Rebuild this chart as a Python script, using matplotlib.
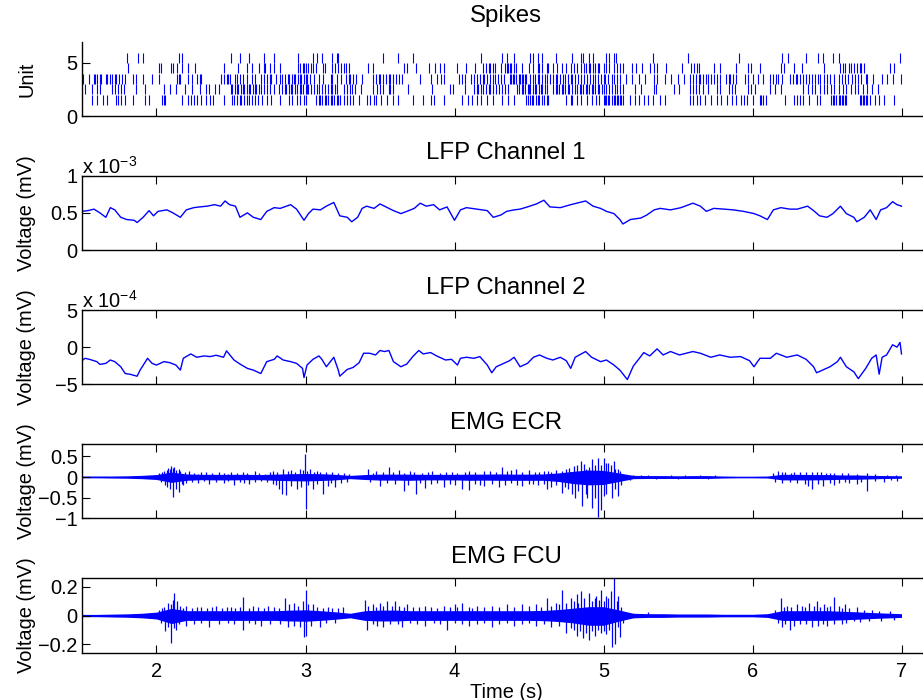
import numpy as np
import matplotlib
matplotlib.use('Agg')
import matplotlib.pyplot as plt

plt.rcParams['font.family'] = ['Liberation Sans', 'DejaVu Sans']
plt.rcParams['mathtext.fontset'] = 'custom'
plt.rcParams['mathtext.rm'] = 'Liberation Sans'
plt.rcParams['font.size'] = 14.4

# spike times (s) per unit
unit1 = [1.57, 1.60, 1.64, 1.67, 1.73, 1.74, 1.76, 1.79, 1.84, 1.92, 1.95, 2.04, 2.05, 2.06, 2.17, 2.21,
         2.23, 2.25, 2.27, 2.30, 2.33, 2.36, 2.38, 2.45, 2.51, 2.52, 2.54, 2.56, 2.57, 2.59, 2.61, 2.62,
         2.64, 2.66, 2.68, 2.71, 2.74, 2.77, 2.83, 2.89, 2.91, 2.94, 2.96, 2.99, 3.00, 3.07, 3.09, 3.10,
         3.11, 3.13, 3.14, 3.15, 3.17, 3.18, 3.19, 3.21, 3.22, 3.23, 3.26, 3.28, 3.30, 3.32, 3.36, 3.41,
         3.43, 3.46, 3.47, 3.51, 3.55, 3.59, 3.62, 3.72, 3.79, 3.84, 3.86, 3.93, 4.05, 4.09, 4.12, 4.15,
         4.18, 4.22, 4.26, 4.32, 4.36, 4.40, 4.48, 4.49, 4.51, 4.52, 4.53, 4.55, 4.56, 4.57, 4.59, 4.60,
         4.62, 4.63, 4.75, 4.78, 4.79, 4.82, 4.85, 4.89, 4.92, 4.95, 4.97, 5.00, 5.01, 5.02, 5.03, 5.04,
         5.06, 5.07, 5.08, 5.09, 5.10, 5.11, 5.12, 5.13, 5.18, 5.21, 5.24, 5.27, 5.30, 5.33, 5.38, 5.41,
         5.58, 5.60, 5.63, 5.65, 5.68, 5.72, 5.76, 5.79, 5.83, 5.86, 5.89, 5.92, 5.94, 5.96, 6.00, 6.05,
         6.06, 6.07, 6.09, 6.22, 6.28, 6.30, 6.32, 6.34, 6.38, 6.43, 6.45, 6.53, 6.54, 6.55, 6.56, 6.58,
         6.59, 6.60, 6.61, 6.62, 6.63, 6.72, 6.73, 6.74, 6.75, 6.76, 6.77, 6.79, 6.82, 6.85, 6.88, 6.95]
unit2 = [1.52, 1.57, 1.60, 1.62, 1.70, 1.72, 1.74, 1.76, 1.78, 1.86, 1.92, 2.05, 2.09, 2.13, 2.19, 2.24,
         2.29, 2.33, 2.35, 2.39, 2.42, 2.50, 2.51, 2.53, 2.54, 2.55, 2.57, 2.58, 2.59, 2.61, 2.62, 2.63,
         2.65, 2.66, 2.67, 2.69, 2.70, 2.72, 2.74, 2.76, 2.79, 2.82, 2.84, 2.86, 2.87, 2.89, 2.90, 2.91,
         2.93, 2.94, 2.96, 2.97, 2.98, 3.00, 3.01, 3.02, 3.04, 3.06, 3.08, 3.09, 3.11, 3.13, 3.15, 3.17,
         3.18, 3.20, 3.21, 3.26, 3.28, 3.30, 3.31, 3.33, 3.37, 3.45, 3.48, 3.50, 3.52, 3.56, 3.57, 3.59,
         3.69, 3.85, 3.97, 3.99, 4.07, 4.13, 4.15, 4.16, 4.18, 4.19, 4.21, 4.23, 4.24, 4.26, 4.28, 4.30,
         4.32, 4.34, 4.36, 4.42, 4.43, 4.45, 4.46, 4.47, 4.49, 4.50, 4.51, 4.53, 4.54, 4.55, 4.57, 4.58,
         4.59, 4.61, 4.62, 4.66, 4.68, 4.69, 4.70, 4.72, 4.73, 4.74, 4.76, 4.77, 4.79, 4.81, 4.82, 4.84,
         4.85, 4.86, 4.88, 4.89, 4.90, 4.92, 4.93, 4.94, 4.96, 4.97, 4.99, 5.00, 5.02, 5.04, 5.06, 5.08,
         5.09, 5.11, 5.13, 5.21, 5.25, 5.34, 5.35, 5.47, 5.51, 5.58, 5.60, 5.62, 5.64, 5.67, 5.70, 5.76,
         5.78, 5.84, 5.86, 5.88, 5.97, 5.99, 6.02, 6.12, 6.15, 6.19, 6.34, 6.37, 6.40, 6.42, 6.45, 6.48,
         6.50, 6.53, 6.55, 6.58, 6.61, 6.63, 6.66, 6.69, 6.71, 6.74, 6.77, 6.80, 6.84]
unit3 = [1.51, 1.55, 1.58, 1.59, 1.60, 1.62, 1.625, 1.66, 1.67, 1.69, 1.70, 1.72, 1.73, 1.75, 1.77, 1.79,
         1.84, 1.86, 1.91, 1.97, 2.02, 2.14, 2.15, 2.16, 2.21, 2.24, 2.27, 2.29, 2.30, 2.43, 2.45, 2.47,
         2.48, 2.49, 2.53, 2.54, 2.56, 2.58, 2.61, 2.64, 2.66, 2.70, 2.72, 2.74, 2.76, 2.77, 2.80, 2.83,
         2.84, 2.86, 2.88, 2.89, 2.91, 2.92, 2.93, 2.95, 2.96, 2.97, 2.99, 3.00, 3.01, 3.03, 3.06, 3.09,
         3.12, 3.17, 3.18, 3.21, 3.24, 3.27, 3.29, 3.30, 3.32, 3.34, 3.38, 3.45, 3.47, 3.49, 3.50, 3.52,
         3.54, 3.56, 3.57, 3.59, 3.61, 3.63, 3.65, 3.77, 3.84, 3.88, 3.91, 3.93, 4.03, 4.05, 4.07, 4.11,
         4.13, 4.15, 4.17, 4.19, 4.20, 4.22, 4.24, 4.26, 4.27, 4.29, 4.31, 4.33, 4.37, 4.38, 4.39, 4.40,
         4.41, 4.43, 4.44, 4.45, 4.46, 4.47, 4.48, 4.51, 4.53, 4.54, 4.56, 4.57, 4.59, 4.61, 4.62, 4.64,
         4.66, 4.68, 4.69, 4.71, 4.73, 4.74, 4.76, 4.78, 4.79, 4.81, 4.83, 4.85, 4.87, 4.89, 4.91, 4.93,
         4.94, 4.96, 4.98, 5.00, 5.01, 5.03, 5.06, 5.07, 5.09, 5.11, 5.15, 5.19, 5.24, 5.28, 5.34, 5.36,
         5.41, 5.45, 5.50, 5.54, 5.58, 5.60, 5.62, 5.64, 5.65, 5.67, 5.69, 5.70, 5.72, 5.74, 5.76, 5.78,
         5.82, 5.84, 5.85, 5.87, 5.89, 5.95, 5.97, 6.00, 6.04, 6.07, 6.12, 6.14, 6.16, 6.17, 6.20, 6.25,
         6.27, 6.29, 6.30, 6.32, 6.34, 6.36, 6.38, 6.40, 6.42, 6.44, 6.45, 6.48, 6.50, 6.52, 6.55, 6.58,
         6.60, 6.62, 6.64, 6.67, 6.69, 6.71, 6.73, 6.76, 6.77, 6.81, 6.87, 6.90, 6.94, 6.995]
unit4 = [1.81, 2.02, 2.03, 2.10, 2.11, 2.14, 2.17, 2.21, 2.26, 2.45, 2.55, 2.61, 2.64, 2.69, 2.72, 2.73,
         2.76, 2.79, 2.83, 2.95, 2.96, 2.98, 2.99, 3.00, 3.02, 3.04, 3.05, 3.07, 3.12, 3.13, 3.18, 3.20,
         3.22, 3.24, 3.26, 3.27, 3.29, 3.42, 3.45, 3.66, 3.68, 3.74, 3.83, 3.87, 3.90, 3.93, 4.02, 4.08,
         4.14, 4.19, 4.21, 4.23, 4.24, 4.26, 4.27, 4.31, 4.34, 4.35, 4.36, 4.37, 4.38, 4.40, 4.41, 4.45,
         4.50, 4.53, 4.56, 4.57, 4.59, 4.62, 4.63, 4.66, 4.69, 4.72, 4.75, 4.78, 4.80, 4.82, 4.85, 4.87,
         4.88, 4.90, 4.91, 4.93, 4.94, 4.96, 4.97, 5.00, 5.02, 5.04, 5.07, 5.09, 5.11, 5.13, 5.19, 5.22,
         5.26, 5.31, 5.34, 5.36, 5.42, 5.53, 5.59, 5.61, 5.63, 5.64, 5.74, 5.78, 5.89, 5.97, 5.99, 6.05,
         6.19, 6.21, 6.28, 6.33, 6.48, 6.59, 6.61, 6.62, 6.65, 6.66, 6.68, 6.70, 6.72, 6.73, 6.75, 6.92,
         6.95]
unit5 = [1.80, 1.875, 1.91, 2.15, 2.17, 2.50, 2.56, 2.62, 2.72, 2.79, 2.95, 3.05, 3.08, 3.11, 3.18, 3.21,
         3.22, 3.52, 3.62, 3.72, 4.18, 4.32, 4.35, 4.40, 4.51, 4.53, 4.56, 4.59, 4.68, 4.79, 4.85, 4.86,
         4.90, 4.93, 5.02, 5.04, 5.07, 5.085, 5.33, 5.57, 5.91, 6.20, 6.24, 6.36, 6.44, 6.47, 6.54, 6.58,
         6.99]
units = [unit1, unit2, unit3, unit4, unit5]

# LFP channel 1 (x 1e-3 mV)
lfp1_t = [1.50, 1.54, 1.58, 1.62, 1.66, 1.69, 1.72, 1.76, 1.80, 1.85, 1.87, 1.91, 1.95, 1.98, 2.01, 2.07,
          2.11, 2.16, 2.20, 2.25, 2.29, 2.34, 2.39, 2.43, 2.46, 2.49, 2.53, 2.56, 2.61, 2.65, 2.70, 2.74,
          2.79, 2.83, 2.90, 2.94, 2.99, 3.02, 3.05, 3.10, 3.14, 3.19, 3.23, 3.28, 3.31, 3.35, 3.38, 3.41,
          3.46, 3.50, 3.55, 3.59, 3.64, 3.68, 3.73, 3.77, 3.81, 3.86, 3.90, 3.95, 4.00,
          4.04, 4.08, 4.15, 4.22, 4.26, 4.31, 4.35, 4.40, 4.44, 4.49, 4.55, 4.60, 4.64, 4.71, 4.78, 4.82,
          4.88, 4.93, 4.98, 5.02, 5.07, 5.11, 5.13, 5.18, 5.25, 5.29, 5.34, 5.38, 5.45, 5.52, 5.60, 5.65,
          5.69, 5.74, 5.81, 5.87, 5.94, 6.01, 6.05, 6.10, 6.14, 6.19, 6.25, 6.30, 6.37, 6.41, 6.45, 6.50,
          6.54, 6.59, 6.63, 6.68, 6.70, 6.75, 6.79, 6.83, 6.86, 6.90, 6.94, 6.97, 7.00]
lfp1_v = [0.52, 0.53, 0.55, 0.50, 0.44, 0.57, 0.54, 0.44, 0.41, 0.40, 0.37, 0.44, 0.53, 0.46, 0.52, 0.54,
          0.50, 0.44, 0.54, 0.57, 0.58, 0.59, 0.61, 0.59, 0.66, 0.61, 0.59, 0.44, 0.50, 0.44, 0.41, 0.52,
          0.57, 0.56, 0.61, 0.55, 0.40, 0.49, 0.55, 0.54, 0.59, 0.64, 0.46, 0.44, 0.38, 0.44, 0.56, 0.59,
          0.56, 0.62, 0.57, 0.53, 0.49, 0.52, 0.56, 0.63, 0.59, 0.61, 0.54, 0.58, 0.40,
          0.54, 0.57, 0.55, 0.53, 0.44, 0.47, 0.52, 0.54, 0.55, 0.58, 0.62, 0.67, 0.58, 0.57, 0.61, 0.63,
          0.66, 0.59, 0.56, 0.52, 0.49, 0.41, 0.35, 0.41, 0.43, 0.47, 0.54, 0.56, 0.54, 0.57, 0.63, 0.59,
          0.52, 0.56, 0.55, 0.54, 0.52, 0.49, 0.46, 0.41, 0.54, 0.57, 0.55, 0.55, 0.59, 0.53, 0.46, 0.44,
          0.49, 0.59, 0.49, 0.44, 0.38, 0.44, 0.54, 0.41, 0.54, 0.57, 0.65, 0.61, 0.59]

# LFP channel 2 (x 1e-4 mV)
lfp2_t = [1.50, 1.52, 1.55, 1.60, 1.62, 1.66, 1.69, 1.72, 1.76, 1.79, 1.82, 1.87, 1.89, 1.94, 1.97, 2.00,
          2.05, 2.09, 2.13, 2.16, 2.18, 2.23, 2.27, 2.32, 2.36, 2.40, 2.45, 2.47, 2.52, 2.56, 2.61, 2.65,
          2.70, 2.74, 2.79, 2.81, 2.85, 2.90, 2.94, 2.98, 2.99, 3.01, 3.05, 3.09, 3.11, 3.14, 3.19, 3.22,
          3.23, 3.28, 3.32, 3.36, 3.39, 3.43, 3.47, 3.50, 3.53, 3.56, 3.59, 3.64, 3.68, 3.72, 3.76, 3.79,
          3.84, 3.88, 3.94, 3.98, 4.02,
          4.04, 4.08, 4.13, 4.17, 4.22, 4.25, 4.28, 4.33, 4.37, 4.40, 4.44, 4.49, 4.53, 4.57, 4.62, 4.66,
          4.71, 4.75, 4.78, 4.81, 4.88, 4.92, 4.98, 5.02, 5.07, 5.11, 5.16, 5.20, 5.25, 5.27, 5.31, 5.36,
          5.40, 5.45, 5.51, 5.60, 5.65, 5.72, 5.78, 5.85, 5.92, 5.98, 6.01, 6.05, 6.12, 6.16, 6.23, 6.30,
          6.36, 6.41, 6.43, 6.48, 6.52, 6.57, 6.59, 6.63, 6.68, 6.71, 6.76, 6.80, 6.83, 6.85, 6.87, 6.90,
          6.94, 6.97, 6.99, 7.00]
lfp2_v = [-1.82, -1.50, -1.64, -1.95, -2.32, -2.18, -1.73, -1.95, -2.64, -3.55, -3.64, -3.91, -3.09, -1.50,
          -2.18, -2.41, -1.95, -2.09, -2.41, -3.09, -1.50, -0.91, -1.36, -1.18, -1.27, -1.09, -1.36, -0.50,
          -1.73, -2.27, -2.86, -3.09, -3.55, -1.95, -1.64, -1.18, -1.73, -1.95, -2.18, -2.86, -4.09, -2.41,
          -1.64, -1.18, -1.64, -2.64, -1.36, -3.09, -3.91, -3.00, -2.73, -2.09, -0.82, -0.82, -1.05, -0.45,
          -0.59, -0.45, -1.95, -2.64, -2.27, -1.27, -0.45, -0.91, -0.73, -1.18, -1.73, -1.64, -2.41,
          -1.50, -1.36, -1.50, -1.27, -2.41, -3.45, -2.64, -2.18, -1.82, -1.36, -2.64, -2.18, -1.36, -1.05,
          -1.50, -1.73, -1.36, -1.82, -2.86, -1.36, -0.59, -1.36, -1.95, -1.73, -2.41, -3.09, -4.36, -2.55,
          -1.27, -0.73, -1.18, -0.23, -1.05, -0.59, -1.05, -0.59, -0.82, -1.36, -1.05, -1.36, -1.27, -1.82,
          -2.64, -1.50, -1.50, -0.82, -1.36, -1.05, -1.64, -2.64, -3.45, -3.00, -2.64, -1.95, -1.36, -2.64,
          -3.32, -4.23, -2.86, -1.50, -1.05, -3.64, -1.36, -1.05, 0.32, 0.00, 0.64, -0.91]

# EMG background envelopes (mV), every 0.1 s
band_t = [1.5, 1.6, 1.7, 1.8, 1.9, 2.0, 2.1, 2.2, 2.3, 2.4, 2.5, 2.6, 2.7, 2.8, 2.9, 3.0, 3.1, 3.2, 3.3,
          3.4, 3.5, 3.6, 3.7, 3.8, 3.9, 4.0, 4.1, 4.2, 4.3, 4.4, 4.5, 4.6, 4.7, 4.8, 4.9, 5.0, 5.1, 5.2,
          5.3, 5.4, 5.5, 5.6, 5.7, 5.8, 5.9, 6.0, 6.1, 6.2, 6.3, 6.4, 6.5, 6.6, 6.7, 6.8, 6.9, 7.0]
ecr_hi = [0.025, 0.025, 0.025, 0.03, 0.04, 0.06, 0.12, 0.075, 0.065, 0.065, 0.065, 0.065, 0.06, 0.07,
          0.08, 0.085, 0.08, 0.065, 0.04, 0.06, 0.07, 0.07, 0.07, 0.065, 0.065, 0.065, 0.07, 0.07,
          0.075, 0.07, 0.07, 0.075, 0.10, 0.14, 0.17, 0.16, 0.10, 0.04, 0.035, 0.035, 0.03, 0.035,
          0.035, 0.025, 0.02, 0.02, 0.025, 0.065, 0.065, 0.06, 0.06, 0.05, 0.05, 0.04, 0.035, 0.03]
ecr_lo = [-0.02, -0.02, -0.025, -0.03, -0.04, -0.06, -0.13, -0.08, -0.065, -0.07, -0.07, -0.065, -0.065,
          -0.08, -0.09, -0.095, -0.085, -0.07, -0.04, -0.06, -0.075, -0.075, -0.08, -0.07, -0.07,
          -0.07, -0.08, -0.075, -0.08, -0.08, -0.08, -0.08, -0.11, -0.16, -0.19, -0.18, -0.11,
          -0.04, -0.035, -0.035, -0.035, -0.035, -0.035, -0.025, -0.02, -0.02, -0.025, -0.07, -0.07,
          -0.07, -0.065, -0.055, -0.055, -0.045, -0.035, -0.03]
fcu_hi = [0.008, 0.008, 0.010, 0.012, 0.016, 0.024, 0.050, 0.034, 0.034, 0.034, 0.034, 0.034, 0.034,
          0.034, 0.038, 0.040, 0.034, 0.026, 0.016, 0.034, 0.038, 0.038, 0.034, 0.034, 0.034, 0.034,
          0.034, 0.034, 0.034, 0.034, 0.034, 0.036, 0.042, 0.052, 0.062, 0.062, 0.040, 0.016, 0.013,
          0.013, 0.011, 0.011, 0.011, 0.009, 0.009, 0.009, 0.013, 0.034, 0.034, 0.034, 0.034, 0.030,
          0.026, 0.021, 0.017, 0.013]
fcu_lo = [-0.008, -0.008, -0.010, -0.012, -0.016, -0.024, -0.056, -0.034, -0.034, -0.034, -0.034,
          -0.034, -0.034, -0.034, -0.038, -0.040, -0.034, -0.026, -0.016, -0.034, -0.038, -0.038, -0.034,
          -0.034, -0.034, -0.034, -0.034, -0.034, -0.034, -0.034, -0.034, -0.036, -0.042, -0.052, -0.068,
          -0.068, -0.040, -0.016, -0.013, -0.013, -0.011, -0.011, -0.011, -0.009, -0.009, -0.009, -0.013,
          -0.034, -0.034, -0.034, -0.034, -0.030, -0.026, -0.021, -0.017, -0.013]

# EMG excursions beyond the background (time s, mV)
ecr_peak_t = [2.02, 2.04, 2.05, 2.07, 2.08, 2.09, 2.10, 2.11, 2.12, 2.13, 2.15, 2.16, 2.19, 2.22, 2.25,
              2.28, 2.30, 2.33, 2.37, 2.42, 2.45, 2.48, 2.50, 2.54, 2.58, 2.61, 2.66, 2.69, 2.73, 2.76,
              2.78, 2.81, 2.85, 2.88, 2.90, 2.93, 2.96, 2.98, 2.995, 3.01, 3.03, 3.06, 3.08, 3.10, 3.14,
              3.18, 3.22, 3.26, 3.29, 3.42, 3.45, 3.47, 3.52, 3.56, 3.59, 3.63, 3.66, 3.70, 3.73, 3.78,
              3.82, 3.85, 3.90, 3.94, 3.98, 4.02, 4.07, 4.10, 4.14, 4.20, 4.24, 4.28, 4.32, 4.35, 4.38,
              4.41, 4.45, 4.50, 4.54, 4.57, 4.60, 4.63, 4.65, 4.68, 4.72, 4.75, 4.77, 4.80, 4.82, 4.85,
              4.87, 4.88, 4.90, 4.925, 4.94, 4.96, 4.98, 5.00, 5.02, 5.03, 5.05, 5.07, 5.08, 5.10, 5.11,
              5.20, 5.25, 5.30, 5.45, 5.55, 5.65, 5.75, 6.14, 6.17, 6.20, 6.22, 6.26, 6.28, 6.32, 6.36,
              6.40, 6.43, 6.46, 6.49, 6.52, 6.55, 6.60, 6.64, 6.70, 6.77, 6.82, 6.90, 6.96,
              2.03, 2.06, 2.07, 2.09, 2.11, 2.13, 2.15, 2.17, 2.18, 2.20, 2.24, 2.28, 2.32, 2.35, 2.40,
              2.45, 2.48, 2.52, 2.56, 2.59, 2.62, 2.66, 2.70, 2.74, 2.78, 2.80, 2.82, 2.84, 2.87, 2.90,
              2.94, 2.97, 3.00, 3.02, 3.05, 3.08, 3.12, 3.15, 3.17, 3.20, 3.24, 3.28, 3.43, 3.50, 3.55,
              3.60, 3.66, 3.69, 3.74, 3.77, 3.80, 3.84, 3.88, 3.93, 3.97, 4.00, 4.05, 4.10, 4.14, 4.17,
              4.20, 4.25, 4.30, 4.34, 4.38, 4.42, 4.45, 4.50, 4.53, 4.56, 4.60, 4.62, 4.65, 4.68, 4.72,
              4.74, 4.76, 4.79, 4.81, 4.83, 4.855, 4.88, 4.89, 4.92, 4.94, 4.96, 4.98, 5.00, 5.02, 5.06,
              5.08, 5.10, 5.12, 5.18, 5.35, 5.50, 5.70, 6.15, 6.20, 6.25, 6.30, 6.35, 6.37, 6.40, 6.44,
              6.47, 6.52, 6.55, 6.58, 6.62, 6.65, 6.70, 6.73, 6.77, 6.82, 6.88, 6.93, 6.97]
ecr_peak_v = [0.10, 0.12, 0.14, 0.18, 0.22, 0.20, 0.27, 0.22, 0.25, 0.18, 0.20, 0.15, 0.11, 0.14, 0.10,
              0.08, 0.12, 0.11, 0.09, 0.12, 0.10, 0.08, 0.13, 0.10, 0.12, 0.09, 0.14, 0.10, 0.08, 0.11,
              0.14, 0.12, 0.20, 0.15, 0.17, 0.13, 0.20, 0.16, 0.55, 0.14, 0.20, 0.12, 0.14, 0.13, 0.11,
              0.12, 0.10, 0.10, 0.08, 0.20, 0.10, 0.14, 0.12, 0.25, 0.11, 0.18, 0.10, 0.14, 0.12, 0.10,
              0.12, 0.14, 0.10, 0.11, 0.12, 0.10, 0.13, 0.14, 0.12, 0.15, 0.14, 0.12, 0.24, 0.15, 0.18,
              0.20, 0.13, 0.16, 0.12, 0.13, 0.14, 0.15, 0.12, 0.17, 0.15, 0.20, 0.22, 0.27, 0.30, 0.40,
              0.32, 0.20, 0.25, 0.44, 0.30, 0.46, 0.30, 0.46, 0.33, 0.35, 0.30, 0.38, 0.20, 0.20, 0.15,
              0.06, 0.06, 0.05, 0.05, 0.05, 0.06, 0.05, 0.10, 0.14, 0.12, 0.13, 0.10, 0.12, 0.11, 0.12,
              0.12, 0.12, 0.11, 0.10, 0.10, 0.10, 0.09, 0.10, 0.08, 0.10, 0.07, 0.06, 0.05,
              -0.12, -0.20, -0.25, -0.30, -0.48, -0.28, -0.36, -0.18, -0.20, -0.14, -0.12, -0.14, -0.10,
              -0.18, -0.12, -0.15, -0.10, -0.20, -0.12, -0.14, -0.16, -0.12, -0.10, -0.13, -0.18, -0.20,
              -0.28, -0.40, -0.43, -0.22, -0.30, -0.25, -0.78, -0.20, -0.30, -0.18, -0.40, -0.22, -0.15,
              -0.25, -0.14, -0.12, -0.12, -0.22, -0.15, -0.18, -0.35, -0.20, -0.40, -0.15, -0.26, -0.18,
              -0.15, -0.25, -0.16, -0.20, -0.30, -0.31, -0.18, -0.20, -0.22, -0.18, -0.25, -0.20, -0.15,
              -0.20, -0.22, -0.18, -0.16, -0.20, -0.18, -0.30, -0.25, -0.20, -0.39, -0.23, -0.30, -0.40,
              -0.51, -0.35, -0.70, -0.40, -0.50, -0.75, -0.50, -0.98, -0.80, -0.45, -0.40, -0.50, -0.30,
              -0.45, -0.20, -0.07, -0.06, -0.06, -0.06, -0.12, -0.15, -0.12, -0.14, -0.18, -0.22, -0.30,
              -0.16, -0.22, -0.14, -0.20, -0.15, -0.12, -0.14, -0.18, -0.12, -0.34, -0.10, -0.12, -0.08,
              -0.10]

fcu_peak_t = [2.02, 2.04, 2.05, 2.08, 2.10, 2.11, 2.12, 2.14, 2.16, 2.18, 2.20, 2.24, 2.27, 2.30, 2.34,
              2.37, 2.40, 2.44, 2.47, 2.50, 2.53, 2.56, 2.58, 2.62, 2.65, 2.68, 2.72, 2.75, 2.79, 2.82,
              2.86, 2.89, 2.92, 2.95, 2.98, 3.00, 3.02, 3.05, 3.08, 3.12, 3.15, 3.18, 3.22, 3.25, 3.40,
              3.42, 3.45, 3.47, 3.50, 3.52, 3.55, 3.58, 3.60, 3.63, 3.66, 3.68, 3.72, 3.76, 3.80, 3.84,
              3.88, 3.93, 3.97, 4.00, 4.02, 4.05, 4.10, 4.12, 4.15, 4.20, 4.25, 4.30, 4.35, 4.40, 4.45,
              4.50, 4.55, 4.58, 4.62, 4.65, 4.68, 4.70, 4.72, 4.75, 4.78, 4.80, 4.82, 4.83, 4.85, 4.87,
              4.90, 4.92, 4.94, 4.95, 4.97, 4.98, 5.00, 5.02, 5.03, 5.05, 5.07, 5.09, 5.10, 5.12, 5.30,
              6.15, 6.19, 6.21, 6.23, 6.26, 6.30, 6.33, 6.35, 6.38, 6.41, 6.43, 6.45, 6.48, 6.50, 6.52,
              6.55, 6.58, 6.60, 6.62, 6.65, 6.70, 6.75, 6.80, 6.85, 6.92,
              2.03, 2.06, 2.08, 2.10, 2.12, 2.13, 2.15, 2.20, 2.25, 2.30, 2.35, 2.42, 2.48, 2.52, 2.58,
              2.62, 2.66, 2.70, 2.76, 2.83, 2.88, 2.92, 2.96, 2.99, 3.00, 3.04, 3.10, 3.14, 3.20, 3.41,
              3.45, 3.48, 3.52, 3.57, 3.62, 3.65, 3.70, 3.75, 3.80, 3.86, 3.90, 3.95, 4.00, 4.05, 4.10,
              4.15, 4.20, 4.25, 4.30, 4.35, 4.40, 4.45, 4.50, 4.55, 4.60, 4.65, 4.70, 4.75, 4.78, 4.80,
              4.82, 4.84, 4.86, 4.88, 4.90, 4.92, 4.94, 4.96, 4.98, 5.00, 5.02, 5.04, 5.06, 5.08, 5.10,
              5.11, 5.13, 6.17, 6.20, 6.22, 6.25, 6.28, 6.32, 6.36, 6.40, 6.44, 6.47, 6.50, 6.55, 6.60,
              6.63, 6.68, 6.72, 6.78, 6.86, 6.95]
fcu_peak_v = [0.04, 0.05, 0.06, 0.09, 0.08, 0.11, 0.16, 0.10, 0.07, 0.05, 0.07, 0.05, 0.06, 0.06, 0.05,
              0.06, 0.07, 0.05, 0.06, 0.06, 0.05, 0.06, 0.13, 0.05, 0.07, 0.06, 0.05, 0.07, 0.06, 0.05,
              0.12, 0.08, 0.09, 0.07, 0.10, 0.18, 0.08, 0.08, 0.06, 0.05, 0.06, 0.05, 0.05, 0.06, 0.11,
              0.07, 0.08, 0.06, 0.09, 0.07, 0.10, 0.07, 0.10, 0.07, 0.06, 0.08, 0.06, 0.06, 0.07, 0.06,
              0.05, 0.07, 0.06, 0.08, 0.06, 0.09, 0.06, 0.05, 0.07, 0.06, 0.07, 0.06, 0.08, 0.06, 0.08,
              0.07, 0.08, 0.06, 0.12, 0.07, 0.09, 0.08, 0.18, 0.09, 0.12, 0.10, 0.15, 0.09, 0.17, 0.12,
              0.16, 0.10, 0.12, 0.14, 0.11, 0.18, 0.10, 0.14, 0.12, 0.17, 0.26, 0.10, 0.14, 0.06, 0.025,
              0.04, 0.12, 0.06, 0.07, 0.06, 0.08, 0.07, 0.06, 0.09, 0.07, 0.10, 0.06, 0.08, 0.06, 0.07,
              0.13, 0.07, 0.05, 0.08, 0.05, 0.06, 0.04, 0.04, 0.035, 0.03,
              -0.05, -0.11, -0.08, -0.19, -0.09, -0.10, -0.06, -0.07, -0.06, -0.05, -0.08, -0.06, -0.05,
              -0.06, -0.10, -0.05, -0.06, -0.07, -0.06, -0.06, -0.08, -0.07, -0.08, -0.15, -0.14, -0.07,
              -0.08, -0.05, -0.05, -0.10, -0.06, -0.07, -0.08, -0.06, -0.06, -0.08, -0.05, -0.06, -0.07,
              -0.05, -0.06, -0.10, -0.05, -0.06, -0.07, -0.06, -0.05, -0.08, -0.06, -0.05, -0.07, -0.06,
              -0.05, -0.07, -0.06, -0.08, -0.07, -0.12, -0.09, -0.10, -0.14, -0.11, -0.16, -0.12, -0.17,
              -0.11, -0.14, -0.10, -0.12, -0.11, -0.13, -0.10, -0.22, -0.20, -0.08, -0.15, -0.05, -0.05,
              -0.08, -0.06, -0.10, -0.07, -0.06, -0.06, -0.08, -0.07, -0.06, -0.07, -0.06, -0.06, -0.05,
              -0.04, -0.045, -0.04, -0.035, -0.03]

xticks = [2, 3, 4, 5, 6, 7]
blue = '#0000ff'

fig = plt.figure(figsize=(9.23, 7.0), dpi=100)
left, width, h = 82 / 923, 848 / 923, 74.3 / 700
xlim = (1.5, 1.5 + 848 / 149)


def style(ax, box=True):
    ax.set_xlim(*xlim)
    ax.set_xticks(xticks)
    ax.tick_params(direction='in', length=6, width=0.8, top=box, right=False, pad=3)
    ax.tick_params(axis='x', pad=7)
    for s in ax.spines.values():
        s.set_linewidth(1.0)
    if not box:
        ax.spines['top'].set_visible(False)
        ax.spines['right'].set_visible(False)
    ax.yaxis.set_label_coords(-0.054, 0.5)


# spike raster
ax = fig.add_axes([left, 1 - 116 / 700, width, h])
for k, times in enumerate(units, start=1):
    ax.vlines(times, k + 0.03, k + 0.97, colors=blue, lw=0.8)
ax.set_ylim(0, 7)
ax.set_yticks([0, 5])
style(ax, box=False)
ax.set_xticklabels([])
ax.set_ylabel('Unit')
ax.set_title('Spikes', pad=14)

# LFP channel 1
ax = fig.add_axes([left, 1 - 250 / 700, width, h])
ax.plot(lfp1_t, np.array(lfp1_v) * 1e-3, color=blue, lw=1.0)
ax.set_ylim(0, 1e-3)
ax.set_yticks([0, 0.5e-3, 1e-3], ['0', '0.5', '1'])
style(ax)
ax.set_xticklabels([])
ax.set_ylabel('Voltage (mV)')
ax.set_title('LFP Channel 1', pad=12)
ax.text(0, 1.03, r'x 10$^{-3}$', transform=ax.transAxes, ha='left', va='baseline')

# LFP channel 2
ax = fig.add_axes([left, 1 - 384.3 / 700, width, h])
ax.plot(lfp2_t, np.array(lfp2_v) * 1e-4, color=blue, lw=1.0)
ax.set_ylim(-5e-4, 5e-4)
ax.set_yticks([-5e-4, 0, 5e-4], ['\u22125', '0', '5'])
style(ax)
ax.set_xticklabels([])
ax.set_ylabel('Voltage (mV)')
ax.set_title('LFP Channel 2', pad=11.5)
ax.text(0, 1.03, r'x 10$^{-4}$', transform=ax.transAxes, ha='left', va='baseline')

# EMG ECR
ax = fig.add_axes([left, 1 - 518.3 / 700, width, h])
ax.fill_between(band_t, ecr_lo, ecr_hi, color=blue, lw=0)
ax.vlines(ecr_peak_t, 0, ecr_peak_v, colors=blue, lw=0.9)
ax.set_ylim(-1, 0.8)
ax.set_yticks([-1, -0.5, 0, 0.5], ['\u22121', '\u22120.5', '0', '0.5'])
style(ax)
ax.set_xticklabels([])
ax.set_ylabel('Voltage (mV)')
ax.set_title('EMG ECR', pad=11)

# EMG FCU
ax = fig.add_axes([left, 1 - 652.7 / 700, width, h])
ax.fill_between(band_t, fcu_lo, fcu_hi, color=blue, lw=0)
ax.vlines(fcu_peak_t, 0, fcu_peak_v, colors=blue, lw=0.9)
ax.set_ylim(-0.26, 0.26)
ax.set_yticks([-0.2, 0, 0.2], ['\u22120.2', '0', '0.2'])
style(ax)
ax.set_ylabel('Voltage (mV)')
ax.set_xlabel('Time (s)', labelpad=1)
ax.set_title('EMG FCU', pad=11)

fig.savefig('out.png', dpi=100)
